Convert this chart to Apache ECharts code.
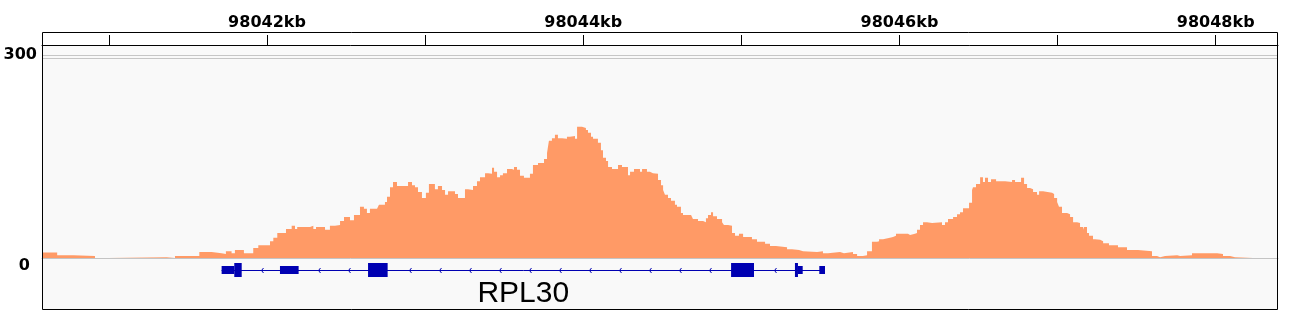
<!DOCTYPE html>
<html><head><meta charset="utf-8">
<script src="https://cdn.jsdelivr.net/npm/echarts@6/dist/echarts.min.js"></script>
<style>html,body{margin:0;padding:0;background:#fff}#c{width:1293px;height:326px}</style>
</head><body><div id="c"></div>
<script>
// genomic window (bp)
const regionStart = 98040577;
const regionEnd = 98048394;
// top ruler
const tickPositions = [98041000, 98042000, 98043000, 98044000, 98045000, 98046000, 98047000, 98048000];
const labelPositions = [98042000, 98044000, 98046000, 98048000];
// data range
const yRangeMax = 316.3;
const yLabelValues = [0, 300];
const rangeLines = [300.7, 296.3];
// coverage bins: start position and coverage value (each bin runs to next start)
const binStart = [98040581, 98040673, 98040775, 98040912, 98040996, 98041365, 98041418, 98041572, 98041650, 98041713, 98041740, 98041776, 98041797, 98041854, 98041913, 98041945, 98042019, 98042040, 98042065, 98042120, 98042156, 98042177, 98042191, 98042272, 98042293, 98042310, 98042367, 98042398, 98042430, 98042462, 98042487, 98042525, 98042550, 98042588, 98042613, 98042632, 98042651, 98042696, 98042708, 98042746, 98042759, 98042778, 98042797, 98042822, 98042892, 98042917, 98042936, 98042955, 98042980, 98043005, 98043024, 98043062, 98043081, 98043107, 98043126, 98043145, 98043189, 98043208, 98043252, 98043271, 98043303, 98043328, 98043347, 98043379, 98043398, 98043423, 98043436, 98043455, 98043474, 98043492, 98043518, 98043549, 98043562, 98043581, 98043600, 98043625, 98043663, 98043682, 98043714, 98043752, 98043771, 98043783, 98043802, 98043821, 98043840, 98043866, 98043897, 98043916, 98043948, 98043961, 98043992, 98044017, 98044030, 98044049, 98044062, 98044093, 98044112, 98044125, 98044144, 98044157, 98044182, 98044220, 98044245, 98044283, 98044296, 98044321, 98044359, 98044372, 98044403, 98044422, 98044441, 98044473, 98044492, 98044505, 98044517, 98044536, 98044555, 98044580, 98044593, 98044618, 98044631, 98044682, 98044694, 98044726, 98044758, 98044776, 98044789, 98044808, 98044821, 98044846, 98044878, 98044890, 98044916, 98044941, 98044960, 98044985, 98045011, 98045067, 98045099, 98045150, 98045181, 98045219, 98045289, 98045320, 98045365, 98045390, 98045479, 98045516, 98045548, 98045624, 98045649, 98045706, 98045732, 98045769, 98045795, 98045826, 98045858, 98045871, 98045896, 98045940, 98045959, 98045978, 98046054, 98046067, 98046098, 98046111, 98046130, 98046149, 98046174, 98046206, 98046269, 98046288, 98046307, 98046339, 98046364, 98046383, 98046402, 98046440, 98046459, 98046465, 98046484, 98046510, 98046528, 98046541, 98046560, 98046579, 98046611, 98046668, 98046712, 98046731, 98046769, 98046788, 98046807, 98046826, 98046845, 98046870, 98046883, 98046908, 98046965, 98046978, 98046997, 98047009, 98047028, 98047060, 98047079, 98047098, 98047123, 98047142, 98047161, 98047167, 98047186, 98047199, 98047224, 98047237, 98047269, 98047288, 98047325, 98047382, 98047439, 98047509, 98047597, 98047629, 98047648, 98047680, 98047756, 98047775, 98047850, 98048009, 98048046, 98048091, 98048122, 98048236];
const coverage = [8, 4, 3, 0, 1, 0, 3, 9, 7, 6, 10, 7, 12, 7, 15, 19, 25, 30, 37, 43, 48, 43, 46, 48, 43, 46, 42, 48, 49, 55, 61, 56, 64, 76, 73, 67, 73, 71, 79, 83, 91, 105, 113, 107, 113, 108, 105, 98, 89, 97, 110, 102, 107, 101, 94, 99, 95, 89, 102, 101, 107, 114, 120, 126, 125, 134, 128, 120, 123, 126, 132, 131, 135, 131, 122, 119, 125, 138, 141, 147, 156, 174, 178, 183, 178, 177, 180, 181, 177, 195, 193, 190, 186, 180, 177, 171, 160, 149, 144, 135, 132, 138, 135, 123, 128, 132, 128, 132, 128, 126, 125, 116, 108, 101, 94, 89, 85, 79, 76, 67, 64, 62, 58, 55, 53, 59, 64, 68, 62, 58, 53, 49, 48, 37, 33, 36, 31, 28, 24, 21, 18, 16, 13, 12, 10, 9, 10, 7, 9, 7, 9, 6, 3, 4, 10, 24, 25, 28, 30, 31, 33, 36, 34, 36, 37, 42, 49, 53, 52, 53, 49, 53, 58, 61, 65, 68, 74, 82, 101, 105, 110, 120, 113, 119, 113, 117, 114, 113, 116, 113, 119, 110, 104, 102, 98, 94, 99, 97, 95, 89, 83, 76, 67, 65, 61, 53, 52, 46, 42, 46, 37, 33, 28, 27, 25, 22, 19, 16, 12, 10, 3, 1, 3, 4, 3, 4, 7, 6, 3, 1, 0, 1];
// gene model
const geneName = 'RPL30';
const geneStart = 98041713;
const geneEnd = 98045529;
const exonStart = [98041713, 98041793, 98042082, 98042639, 98044935, 98045339, 98045358, 98045493];
const exonEnd   = [98041793, 98041840, 98042200, 98042763, 98045080, 98045358, 98045388, 98045529];
const exonKind  = ['utr', 'cds', 'utr', 'cds', 'cds', 'cds', 'utr', 'utr'];

const covColor = 'rgb(255,154,102)';
const geneColor = '#0000b2';
const font = '"DejaVu Sans", sans-serif';

const covData = binStart.map((s, i) => [s, coverage[i]]);
covData.push([regionEnd, coverage[coverage.length - 1]]);

const chart = echarts.init(document.getElementById('c'), null, {renderer: 'canvas'});

function renderGene(params, api) {
  const a = api.coord([geneStart, 12]);
  const b = api.coord([geneEnd, 12]);
  const cy = Math.round(a[1]);
  const children = [];
  children.push({type: 'line', shape: {x1: a[0], y1: cy + 0.5, x2: b[0], y2: cy + 0.5},
    style: {stroke: geneColor, lineWidth: 1}});
  // strand arrows inside introns
  for (let i = 0; i < exonStart.length - 1; i++) {
    const x0 = api.coord([exonEnd[i], 12])[0];
    const x1 = api.coord([exonStart[i + 1], 12])[0];
    const len = x1 - x0;
    const n = Math.floor(len / 30);
    const mid = (x0 + x1) / 2;
    for (let k = 0; k < n; k++) {
      const x = Math.round(mid + (k - (n - 1) / 2) * 30) + 0.5;
      children.push({type: 'polyline', shape: {points: [[x + 2, cy - 2], [x, cy + 0.5], [x + 2, cy + 3]]},
        style: {stroke: geneColor, lineWidth: 1, fill: null}});
    }
  }
  for (let i = 0; i < exonStart.length; i++) {
    const x0 = api.coord([exonStart[i], 12])[0];
    const x1 = api.coord([exonEnd[i], 12])[0];
    const h = exonKind[i] === 'cds' ? 7 : 4;
    children.push({type: 'rect', shape: {x: x0, y: cy - h, width: Math.max(1, x1 - x0), height: 2 * h},
      style: {fill: geneColor}});
  }
  children.push({type: 'text', style: {text: geneName, x: (a[0] + b[0]) / 2, y: cy + 24,
    align: 'center', verticalAlign: 'middle', font: '30px "Liberation Sans", Arial, sans-serif', fill: '#000'}});
  return {type: 'group', children};
}

chart.setOption({
  animation: false,
  backgroundColor: '#ffffff',
  grid: [
    {left: 42, right: 15, top: 45, bottom: 68},
    {left: 42, right: 15, top: 258, height: 24}
  ],
  xAxis: [
    {type: 'value', gridIndex: 0, min: regionStart, max: regionEnd, position: 'top',
      axisLine: {show: true, onZero: false, lineStyle: {color: '#000', width: 1}},
      axisTick: {show: true, customValues: tickPositions, length: 10, inside: false, lineStyle: {color: '#000', width: 1}},
      axisLabel: {show: true, customValues: labelPositions, margin: 14, color: '#000',
        fontFamily: font, fontWeight: 'bold', fontSize: 16,
        formatter: v => Math.round(v / 1000) + 'kb'},
      splitLine: {show: false}},
    {type: 'value', gridIndex: 1, min: regionStart, max: regionEnd, position: 'top',
      axisLine: {show: true, onZero: false, lineStyle: {color: '#c4c4c4', width: 1}},
      axisTick: {show: false}, axisLabel: {show: false}, splitLine: {show: false}}
  ],
  yAxis: [
    {type: 'value', gridIndex: 0, min: 0, max: yRangeMax, interval: 300,
      axisLine: {show: false}, axisTick: {show: false}, splitLine: {show: false},
      axisLabel: {show: true, margin: 5, color: '#000', fontFamily: font, fontWeight: 'bold', fontSize: 16,
        formatter: v => v === yLabelValues[1] ? '{a|' + v + '}' : (v === yLabelValues[0] ? '{b|' + v + '}' : ''),
        rich: {
          a: {fontFamily: font, fontWeight: 'bold', fontSize: 16, color: '#000', padding: [0, 0, 3, 0]},
          b: {fontFamily: font, fontWeight: 'bold', fontSize: 16, color: '#000', padding: [16, 7, 0, 0]}
        }}},
    {type: 'value', gridIndex: 1, min: 0, max: 24, show: false}
  ],
  graphic: {elements: [
    {type: 'rect', z: -100, silent: true, shape: {x: 42, y: 45, width: 1236, height: 265}, style: {fill: '#f9f9f9'}},
    {type: 'rect', z: 100, silent: true, shape: {x: 42.5, y: 32.5, width: 1235, height: 277}, style: {fill: null, stroke: '#000', lineWidth: 1}}
  ]},
  series: [
    {type: 'line', xAxisIndex: 0, yAxisIndex: 0, data: covData, step: 'end', showSymbol: false,
      lineStyle: {width: 0, opacity: 0}, areaStyle: {color: covColor, opacity: 1}, silent: true,
      markLine: {silent: true, symbol: ['none', 'none'], label: {show: false},
        lineStyle: {color: '#c6c6c6', width: 1, type: 'solid'},
        data: rangeLines.map(v => ({yAxis: v}))}},
    {type: 'custom', xAxisIndex: 1, yAxisIndex: 1, clip: false, silent: true,
      data: [[geneStart, geneEnd]], renderItem: renderGene}
  ]
});
</script></body></html>
